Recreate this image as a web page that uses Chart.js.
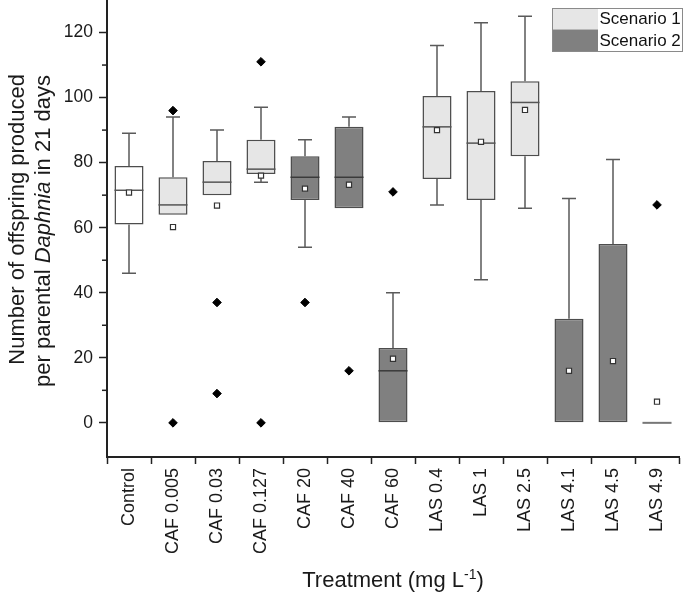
<!DOCTYPE html>
<html>
<head>
<meta charset="utf-8">
<script src="https://cdn.jsdelivr.net/npm/chart.js@4/dist/chart.umd.min.js"></script>
<style>
  html, body { margin: 0; padding: 0; background: #fff; }
</style>
</head>
<body>
<canvas id="chart" width="685" height="592"></canvas>
<script>
// treatments and box statistics
const treatments = ["Control", "CAF 0.005", "CAF 0.03", "CAF 0.127", "CAF 20", "CAF 40", "CAF 60",
  "LAS 0.4", "LAS 1", "LAS 2.5", "LAS 4.1", "LAS 4.5", "LAS 4.9"];
const scenario = [0, 1, 1, 1, 2, 2, 2, 1, 1, 1, 2, 2, 2];
const whiskerLow = [46, 64, 70, 74, 54, 66, 0, 67, 44, 66, 0, 0, 0];
const q1 = [61, 64, 70, 76.5, 68.5, 66, 0, 75, 68.5, 82, 0, 0, 0];
const median = [71.5, 67, 74, 78, 75.5, 75.5, 16, 91, 86, 98.5, 0, 0, 0];
const q3 = [79, 75.5, 80.5, 87, 82, 91, 23, 100.5, 102, 105, 32, 55, 0];
const whiskerHigh = [89, 94, 90, 97, 87, 94, 40, 116, 123, 125, 69, 81, 0];
const means = [70.8, 60.2, 66.8, 76, 72, 73.2, 19.7, 90, 86.4, 96.2, 16, 19, 6.5];
const outlierTreatment = ["CAF 0.005", "CAF 0.005", "CAF 0.03", "CAF 0.03", "CAF 0.127", "CAF 0.127",
  "CAF 20", "CAF 40", "CAF 60", "LAS 4.9"];
const outlierValue = [96, 0, 37, 9, 111, 0, 37, 16, 71, 67];
const yTicks = [0, 20, 40, 60, 80, 100, 120];
const yMinorTicks = [10, 30, 50, 70, 90, 110];
const legendLabels = ["Scenario 1", "Scenario 2"];

const fillColors = ["#ffffff", "#e6e6e6", "#808080"];
const FONT = "'Liberation Sans', Arial, sans-serif";

const boxPlotPlugin = {
  id: "boxplot",
  afterDatasetDraw(chart, args) {
    if (args.index !== 0) return;
    const ctx = chart.ctx;
    const y = chart.scales.y;
    const meta = chart.getDatasetMeta(0);
    ctx.save();
    treatments.forEach((t, i) => {
      const bar = meta.data[i];
      const cx = bar.x;
      const half = bar.width / 2;
      const cap = 7;
      ctx.strokeStyle = "#5a5a5a";
      ctx.lineWidth = 1.5;
      // upper whisker
      if (whiskerHigh[i] > q3[i]) {
        ctx.beginPath();
        ctx.moveTo(cx, y.getPixelForValue(q3[i]));
        ctx.lineTo(cx, y.getPixelForValue(whiskerHigh[i]));
        ctx.moveTo(cx - cap, y.getPixelForValue(whiskerHigh[i]));
        ctx.lineTo(cx + cap, y.getPixelForValue(whiskerHigh[i]));
        ctx.stroke();
      }
      // lower whisker
      if (whiskerLow[i] < q1[i]) {
        ctx.beginPath();
        ctx.moveTo(cx, y.getPixelForValue(q1[i]));
        ctx.lineTo(cx, y.getPixelForValue(whiskerLow[i]));
        ctx.moveTo(cx - cap, y.getPixelForValue(whiskerLow[i]));
        ctx.lineTo(cx + cap, y.getPixelForValue(whiskerLow[i]));
        ctx.stroke();
      }
      // median (skip when it sits on the box edge, the border already shows it)
      const flat = q1[i] === q3[i];
      if (!flat && (median[i] === q1[i] || median[i] === q3[i])) return;
      ctx.strokeStyle = flat ? "#777" : (scenario[i] === 2 ? "#3a3a3a" : "#555");
      ctx.lineWidth = flat ? 2 : 1.5;
      ctx.beginPath();
      ctx.moveTo(cx - half, y.getPixelForValue(median[i]));
      ctx.lineTo(cx + half, y.getPixelForValue(median[i]));
      ctx.stroke();
    });
    ctx.restore();
  },
  afterDraw(chart) {
    const ctx = chart.ctx;
    const y = chart.scales.y;
    const area = chart.chartArea;
    ctx.save();
    // minor ticks on y axis
    ctx.strokeStyle = "#222";
    ctx.lineWidth = 1.5;
    yMinorTicks.forEach(v => {
      const py = y.getPixelForValue(v);
      ctx.beginPath();
      ctx.moveTo(area.left, py);
      ctx.lineTo(area.left - 5, py);
      ctx.stroke();
    });

    // y axis title, two lines, Daphnia in italic
    ctx.fillStyle = "#1a1a1a";
    ctx.textBaseline = "alphabetic";
    const drawRotated = (segments, bx, endY) => {
      let w = 0;
      segments.forEach(s => { ctx.font = s[1]; w += ctx.measureText(s[0]).width; });
      ctx.save();
      ctx.translate(bx, endY);
      ctx.rotate(-Math.PI / 2);
      let x = -w;
      ctx.textAlign = "left";
      segments.forEach(s => {
        ctx.font = s[1];
        ctx.fillText(s[0], x, 0);
        x += ctx.measureText(s[0]).width;
      });
      ctx.restore();
    };
    const norm = "22px " + FONT;
    const ital = "italic 22px " + FONT;
    drawRotated([["Number of offspring produced", norm]], 24, 74);
    drawRotated([["per parental ", norm], ["Daphnia", ital], [" in 21 days", norm]], 50, 75);

    // x axis title with superscript
    const parts = [["Treatment (mg L", norm, 0], ["-1", "14px " + FONT, -8], [")", norm, 0]];
    let tw = 0;
    parts.forEach(p => { ctx.font = p[1]; tw += ctx.measureText(p[0]).width; });
    let tx = (area.left + area.right) / 2 - tw / 2;
    ctx.textAlign = "left";
    parts.forEach(p => {
      ctx.font = p[1];
      ctx.fillText(p[0], tx, 587 + p[2]);
      tx += ctx.measureText(p[0]).width;
    });

    // legend box
    const lx = 552, ly = 8, sw = 46, rh = 21.5;
    legendLabels.forEach((lab, k) => {
      ctx.fillStyle = fillColors[k + 1];
      ctx.fillRect(lx, ly + k * rh, sw, rh);
      ctx.fillStyle = "#111";
      ctx.font = "17px " + FONT;
      ctx.textBaseline = "middle";
      ctx.fillText(lab, lx + sw + 1.5, ly + k * rh + rh / 2 + 1);
    });
    ctx.strokeStyle = "#8a8a8a";
    ctx.lineWidth = 1;
    ctx.strokeRect(lx + 0.5, ly + 0.5, 130, rh * 2);
    ctx.restore();
  }
};

new Chart(document.getElementById("chart"), {
  type: "bar",
  data: {
    labels: treatments,
    datasets: [
      {
        label: "Box",
        data: treatments.map((t, i) => [q1[i], q3[i]]),
        backgroundColor: scenario.map(s => fillColors[s]),
        borderColor: "#4d4d4d",
        borderWidth: 1.5,
        borderSkipped: false,
        barPercentage: 0.66,
        categoryPercentage: 1,
        order: 2,
      },
      {
        type: "scatter",
        label: "Mean",
        data: treatments.map((t, i) => ({ x: t, y: means[i] })),
        pointStyle: "rect",
        pointRadius: 3.6,
        backgroundColor: "#ffffff",
        borderColor: "#333",
        borderWidth: 1.2,
        order: 1,
      },
      {
        type: "scatter",
        label: "Outliers",
        data: outlierTreatment.map((t, i) => ({ x: t, y: outlierValue[i] })),
        pointStyle: "rectRot",
        pointRadius: 4.3,
        backgroundColor: "#000",
        borderColor: "#000",
        borderWidth: 1,
        order: 0,
      },
    ],
  },
  options: {
    responsive: false,
    animation: false,
    devicePixelRatio: 1,
    layout: { autoPadding: false, padding: { left: 0, right: 6, top: 0, bottom: 0 } },
    plugins: {
      legend: { display: false },
      tooltip: { enabled: false },
    },
    scales: {
      x: {
        type: "category",
        offset: true,
        grid: { drawOnChartArea: false, tickLength: 7, color: "#222", tickWidth: 1.5 },
        border: { color: "#222", width: 2 },
        ticks: {
          autoSkip: false,
          minRotation: 90,
          maxRotation: 90,
          padding: 4,
          color: "#1a1a1a",
          font: { family: FONT, size: 18 },
        },
        afterFit(scale) {
          scale.height = 135;
          scale.paddingLeft = 0;
          scale.paddingRight = 0;
        },
      },
      y: {
        min: -10.5,
        max: 130,
        grid: { drawOnChartArea: false, tickLength: 8, color: "#222", tickWidth: 1.5 },
        border: { color: "#222", width: 2 },
        ticks: {
          padding: 6,
          color: "#1a1a1a",
          font: { family: FONT, size: 17.5 },
        },
        afterBuildTicks(scale) {
          scale.ticks = yTicks.map(v => ({ value: v }));
        },
        afterFit(scale) {
          scale.width = 107;
          scale.paddingTop = 0;
          scale.paddingBottom = 0;
        },
      },
    },
  },
  plugins: [boxPlotPlugin],
});
</script>
</body>
</html>
